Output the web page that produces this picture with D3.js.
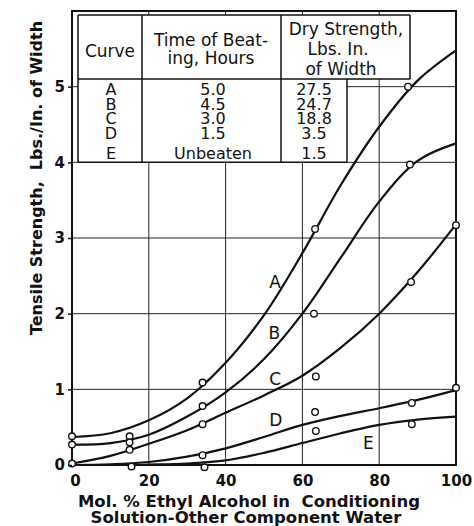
<!DOCTYPE html>
<html><head><meta charset="utf-8">
<script src="https://cdn.jsdelivr.net/npm/d3@7"></script>
<style>body{margin:0;background:#fff} svg{display:block} text{white-space:pre}</style>
</head><body><svg id="c" width="474" height="526"></svg>
<script>
// ---------- data ----------
const xTicks = [0, 20, 40, 60, 80, 100];
const yTicks = [0, 1, 2, 3, 4, 5];
const curveNames = ["A", "B", "C", "D", "E"];

// smooth (fitted) curves
const curveX  = [0, 10, 20, 30, 40, 50, 60, 70, 80, 90, 100];
const curveA  = [0.37, 0.42, 0.59, 0.88, 1.35, 1.98, 2.80, 3.70, 4.47, 5.08, 5.48];
const curveB  = [0.27, 0.29, 0.40, 0.64, 0.96, 1.40, 2.00, 2.74, 3.48, 4.02, 4.25];
const curveC  = [0.02, 0.12, 0.28, 0.46, 0.69, 0.92, 1.18, 1.55, 2.00, 2.55, 3.18];
const curveD  = [0.00, 0.01, 0.04, 0.11, 0.22, 0.37, 0.53, 0.65, 0.75, 0.86, 0.99];
const curveEX = [15, 20, 30, 40, 50, 60, 70, 80, 90, 100];
const curveE  = [0.00, 0.005, 0.02, 0.06, 0.16, 0.29, 0.42, 0.53, 0.60, 0.64];

// measured points (open circles)
const pointsAX = [0, 15, 34, 63.3, 87.5];
const pointsA  = [0.38, 0.38, 1.09, 3.12, 5.00];
const pointsBX = [0, 15, 34, 63, 88];
const pointsB  = [0.27, 0.30, 0.78, 2.00, 3.97];
const pointsCX = [0, 15, 34, 63.5, 88.3, 100];
const pointsC  = [0.02, 0.20, 0.54, 1.17, 2.42, 3.17];
const pointsDX = [34, 63.3, 88.5, 100];
const pointsD  = [0.13, 0.70, 0.82, 1.02];
const pointsEX = [15.5, 34.5, 63.5, 88.5];
const pointsE  = [-0.02, -0.03, 0.45, 0.54];

// curve label anchors (data units)
const labelX = [52.9, 52.7, 52.9, 53.1, 77.2];
const labelY = [2.42, 1.75, 1.14, 0.60, 0.29];

// table contents
const tableHours    = ["5.0", "4.5", "3.0", "1.5", "Unbeaten"];
const tableStrength = ["27.5", "24.7", "18.8", "3.5", "1.5"];

const xTitle1 = "Mol. % Ethyl Alcohol in  Conditioning";
const xTitle2 = "Solution-Other Component Water";
const yTitle  = "Tensile Strength,  Lbs./In. of Width";

// ---------- drawing ----------
const svg = d3.select("#c");
const ink = "#111";
const x = d3.scaleLinear().domain([0, 100]).range([72, 456]);
const y = d3.scaleLinear().domain([0, 6]).range([465, 11]);

const curvesX = [curveX, curveX, curveX, curveX, curveEX];
const curvesY = [curveA, curveB, curveC, curveD, curveE];
const ptsX = [pointsAX, pointsBX, pointsCX, pointsDX, pointsEX];
const ptsY = [pointsA, pointsB, pointsC, pointsD, pointsE];

// grid
const g = svg.append("g");
g.selectAll("line.v").data(xTicks.slice(1, -1)).join("line")
  .attr("x1", d => x(d)).attr("x2", d => x(d))
  .attr("y1", y(6)).attr("y2", y(0))
  .attr("stroke", "#222").attr("stroke-width", 1);
g.selectAll("line.h").data(yTicks.slice(1)).join("line")
  .attr("x1", x(0)).attr("x2", x(100))
  .attr("y1", d => y(d)).attr("y2", d => y(d))
  .attr("stroke", "#222").attr("stroke-width", 1);

// table
const T = svg.append("g");
const tl = 78, c1 = 142, c2 = 281, c3 = 347, hr = 410, tt = 15, hb = 79, tb = y(4);
T.append("rect").attr("x", tl).attr("y", tt).attr("width", hr - tl).attr("height", hb - tt).attr("fill", "#fff");
T.append("rect").attr("x", tl).attr("y", hb).attr("width", c3 - tl).attr("height", tb - hb).attr("fill", "#fff");
const tline = (x1, y1, x2, y2) => T.append("line").attr("x1", x1).attr("y1", y1).attr("x2", x2).attr("y2", y2)
  .attr("stroke", ink).attr("stroke-width", 1.5);
tline(tl, tt, hr, tt); tline(tl, hb, hr, hb); tline(tl, tb, c3, tb);
tline(tl, tt, tl, tb); tline(c1, tt, c1, tb); tline(c2, tt, c2, tb);
tline(c3, hb, c3, tb); tline(hr, tt, hr, hb);

const tText = (s, cx, by, fs) => T.append("text").attr("x", cx).attr("y", by)
  .attr("text-anchor", "middle").attr("font-family", "DejaVu Sans").attr("font-size", fs)
  .attr("fill", ink).text(s);
tText("Curve", 110, 57, 17);
tText("Time of Beat-", 211, 46, 17);
tText("ing, Hours", 211, 64, 17);
tText("Dry Strength,", 346, 35, 17);
tText("Lbs. In.", 338, 55, 17);
tText("of Width", 341, 75, 17);
const rowBase = [95, 109.5, 124, 138.5, 158.5];
curveNames.forEach((n, i) => {
  tText(n, 111, rowBase[i], 16);
  tText(tableHours[i], 213, rowBase[i], 16);
  tText(tableStrength[i], 314, rowBase[i], 16);
});

// curves
const line = d3.line().x(d => x(d[0])).y(d => y(d[1])).curve(d3.curveCatmullRom.alpha(0.5));
curveNames.forEach((n, i) => {
  const data = curvesX[i].map((v, j) => [v, curvesY[i][j]]);
  svg.append("path").attr("d", line(data)).attr("fill", "none")
    .attr("stroke", ink).attr("stroke-width", 2.2);
});

// frame
svg.append("rect").attr("x", x(0)).attr("y", y(6)).attr("width", x(100) - x(0)).attr("height", y(0) - y(6))
  .attr("fill", "none").attr("stroke", ink).attr("stroke-width", 2);

// points
curveNames.forEach((n, i) => {
  svg.append("g").selectAll("circle").data(ptsX[i].map((v, j) => [v, ptsY[i][j]])).join("circle")
    .attr("cx", d => x(d[0])).attr("cy", d => y(d[1])).attr("r", 3.3)
    .attr("fill", "#fff").attr("stroke", ink).attr("stroke-width", 1.4);
});

// curve labels
curveNames.forEach((n, i) => {
  svg.append("text").attr("x", x(labelX[i])).attr("y", y(labelY[i]) + 6.2)
    .attr("text-anchor", "middle").attr("font-family", "DejaVu Sans").attr("font-size", 17)
    .attr("fill", ink).text(n);
});

// axes
const ya = svg.append("g").attr("transform", `translate(${x(0)},0)`)
  .call(d3.axisLeft(y).tickValues(yTicks).tickSize(4).tickPadding(3).tickFormat(d3.format("d")));
ya.select(".domain").remove();
ya.selectAll("line").attr("stroke", ink).attr("stroke-width", 1.5);
ya.selectAll("text").attr("font-family", "DejaVu Sans").attr("font-weight", "bold").attr("font-size", 15).attr("fill", ink);

const xa = svg.append("g").attr("transform", `translate(0,${y(0)})`)
  .call(d3.axisBottom(x).tickValues(xTicks).tickSize(0).tickPadding(10).tickFormat(d3.format("d")));
xa.select(".domain").remove();
xa.selectAll("text").attr("font-family", "DejaVu Sans").attr("font-weight", "bold").attr("font-size", 15).attr("fill", ink)
  .attr("dx", d => d === 0 ? 3 : 0);

// titles
svg.append("text").attr("x", 249).attr("y", 507).attr("text-anchor", "middle")
  .attr("font-family", "DejaVu Sans").attr("font-weight", "bold").attr("font-size", 16.5).attr("fill", ink).text(xTitle1);
svg.append("text").attr("x", 246).attr("y", 523).attr("text-anchor", "middle")
  .attr("font-family", "DejaVu Sans").attr("font-weight", "bold").attr("font-size", 16.5).attr("fill", ink).text(xTitle2);
svg.append("text").attr("transform", "translate(42,178) rotate(-90)").attr("text-anchor", "middle")
  .attr("font-family", "DejaVu Sans").attr("font-weight", "bold").attr("font-size", 16).attr("fill", ink).text(yTitle);
</script></body></html>
